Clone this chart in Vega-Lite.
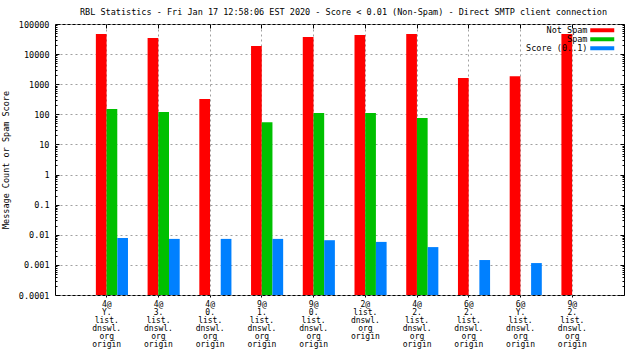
{
  "$schema": "https://vega.github.io/schema/vega-lite/v6.json",
  "width": 569,
  "height": 271,
  "autosize": "none",
  "padding": {"left": 55, "top": 24, "right": 16, "bottom": 65},
  "background": "white",
  "config": {
    "view": {"stroke": "black", "strokeWidth": 1},
    "font": "DejaVu Sans Mono",
    "axis": {"domain": false, "labelFont": "DejaVu Sans Mono", "labelFontSize": 8.5, "labelColor": "black", "titleFont": "DejaVu Sans Mono", "titleFontSize": 8.5, "titleFontWeight": "normal", "titleColor": "black", "tickColor": "black"}
  },
  "title": {"text": "RBL Statistics - Fri Jan 17 12:58:06 EST 2020 - Score < 0.01 (Non-Spam) - Direct SMTP client connection", "font": "DejaVu Sans Mono", "fontSize": 8.5, "fontWeight": "normal", "color": "black", "offset": 4, "dx": 4},
  "data": {"values": [
    {"rbl": "4@ Y. list. dnswl. org origin", "series": "Not Spam", "value": 46500},
    {"rbl": "4@ Y. list. dnswl. org origin", "series": "Spam", "value": 150},
    {"rbl": "4@ Y. list. dnswl. org origin", "series": "Score (0..1)", "value": 0.0078},
    {"rbl": "4@ 3. list. dnswl. org origin", "series": "Not Spam", "value": 34000},
    {"rbl": "4@ 3. list. dnswl. org origin", "series": "Spam", "value": 120},
    {"rbl": "4@ 3. list. dnswl. org origin", "series": "Score (0..1)", "value": 0.0073},
    {"rbl": "4@ 0. list. dnswl. org origin", "series": "Not Spam", "value": 320},
    {"rbl": "4@ 0. list. dnswl. org origin", "series": "Score (0..1)", "value": 0.0073},
    {"rbl": "9@ 1. list. dnswl. org origin", "series": "Not Spam", "value": 18500},
    {"rbl": "9@ 1. list. dnswl. org origin", "series": "Spam", "value": 55},
    {"rbl": "9@ 1. list. dnswl. org origin", "series": "Score (0..1)", "value": 0.0073},
    {"rbl": "9@ 0. list. dnswl. org origin", "series": "Not Spam", "value": 37000},
    {"rbl": "9@ 0. list. dnswl. org origin", "series": "Spam", "value": 110},
    {"rbl": "9@ 0. list. dnswl. org origin", "series": "Score (0..1)", "value": 0.0066},
    {"rbl": "2@ list. dnswl. org origin", "series": "Not Spam", "value": 43000},
    {"rbl": "2@ list. dnswl. org origin", "series": "Spam", "value": 110},
    {"rbl": "2@ list. dnswl. org origin", "series": "Score (0..1)", "value": 0.0058},
    {"rbl": "4@ 2. list. dnswl. org origin", "series": "Not Spam", "value": 46500},
    {"rbl": "4@ 2. list. dnswl. org origin", "series": "Spam", "value": 75},
    {"rbl": "4@ 2. list. dnswl. org origin", "series": "Score (0..1)", "value": 0.0039},
    {"rbl": "6@ 2. list. dnswl. org origin", "series": "Not Spam", "value": 1600},
    {"rbl": "6@ 2. list. dnswl. org origin", "series": "Score (0..1)", "value": 0.00145},
    {"rbl": "6@ Y. list. dnswl. org origin", "series": "Not Spam", "value": 1850},
    {"rbl": "6@ Y. list. dnswl. org origin", "series": "Score (0..1)", "value": 0.00115},
    {"rbl": "9@ 2. list. dnswl. org origin", "series": "Not Spam", "value": 46500}
  ]},
  "layer": [
    {
      "mark": {"type": "bar", "zindex": 1},
      "encoding": {
        "x": {"field": "rbl", "type": "nominal", "sort": null,
              "scale": {"paddingInner": 0, "paddingOuter": 0.5},
              "axis": {"orient": "bottom", "title": null, "labelAngle": 0, "labelExpr": "split(datum.label, ' ')", "labelFontSize": 8, "labelLineHeight": 8, "labelBaseline": "top", "labelPadding": 3, "labelOverlap": false, "labelLimit": 0, "tickSize": 2, "bandPosition": 0.5, "grid": true, "gridDash": [2, 3], "gridColor": "#a0a0a0", "gridOpacity": 1}},
        "xOffset": {"field": "series", "type": "nominal",
                    "scale": {"domain": ["Not Spam", "Spam", "Score (0..1)"], "paddingInner": 0, "paddingOuter": 0.916, "align": 0.765}},
        "y": {"field": "value", "type": "quantitative", "stack": null,
              "scale": {"type": "log", "domain": [0.0001, 100000], "nice": false},
              "axis": {"orient": "left", "title": "Message Count or Spam Score", "titlePadding": 8,
                       "values": [0.0001,0.0002,0.0003,0.0004,0.0005,0.0006,0.0007,0.0008,0.0009,0.001,0.002,0.003,0.004,0.005,0.006,0.007,0.008,0.009,0.01,0.02,0.03,0.04,0.05,0.06,0.07,0.08,0.09,0.1,0.2,0.3,0.4,0.5,0.6,0.7,0.8,0.9,1,2,3,4,5,6,7,8,9,10,20,30,40,50,60,70,80,90,100,200,300,400,500,600,700,800,900,1000,2000,3000,4000,5000,6000,7000,8000,9000,10000,20000,30000,40000,50000,60000,70000,80000,90000,100000],
                       "labelExpr": "abs(log(datum.value)/LN10 - round(log(datum.value)/LN10)) < 0.001 ? format(datum.value, '~f') : ''",
                       "labelOverlap": false, "labelPadding": 10, "labelBound": false, "labelFlush": false,
                       "tickSize": {"condition": {"test": "abs(log(datum.value)/LN10 - round(log(datum.value)/LN10)) < 0.001", "value": -4}, "value": -2},
                       "grid": true, "gridDash": [2, 3], "gridColor": "#a0a0a0",
                       "gridOpacity": {"condition": {"test": "abs(log(datum.value)/LN10 - round(log(datum.value)/LN10)) < 0.001", "value": 1}, "value": 0}}},
        "color": {"field": "series", "type": "nominal",
                  "scale": {"domain": ["Not Spam", "Spam", "Score (0..1)"], "range": ["#ff0000", "#00c000", "#0080ff"]},
                  "legend": {"title": null, "orient": "none", "legendX": 543, "legendY": 2, "symbolType": "M-6,-1H6V1H-6Z", "symbolSize": 16, "symbolStrokeWidth": 0, "symbolOpacity": 1, "labelAlign": "right", "labelOffset": -19, "labelFont": "DejaVu Sans Mono", "labelFontSize": 8.5, "labelColor": "black", "rowPadding": 0, "padding": 0, "labelLimit": 0}}
      }
    },
    {
      "mark": {"type": "bar", "opacity": 0},
      "encoding": {
        "x": {"field": "rbl", "type": "nominal", "sort": null,
              "axis": {"orient": "top", "title": null, "labels": false, "tickSize": -4, "bandPosition": 0.5, "grid": false}},
        "xOffset": {"field": "series", "type": "nominal"},
        "y": {"field": "value", "type": "quantitative", "stack": null,
              "axis": {"orient": "right", "title": null, "labels": false, "grid": false,
                       "values": [0.0001,0.0002,0.0003,0.0004,0.0005,0.0006,0.0007,0.0008,0.0009,0.001,0.002,0.003,0.004,0.005,0.006,0.007,0.008,0.009,0.01,0.02,0.03,0.04,0.05,0.06,0.07,0.08,0.09,0.1,0.2,0.3,0.4,0.5,0.6,0.7,0.8,0.9,1,2,3,4,5,6,7,8,9,10,20,30,40,50,60,70,80,90,100,200,300,400,500,600,700,800,900,1000,2000,3000,4000,5000,6000,7000,8000,9000,10000,20000,30000,40000,50000,60000,70000,80000,90000,100000],
                       "tickSize": {"condition": {"test": "abs(log(datum.value)/LN10 - round(log(datum.value)/LN10)) < 0.001", "value": -4}, "value": -2}}}
      }
    }
  ],
  "resolve": {"axis": {"x": "independent", "y": "independent"}}
}
